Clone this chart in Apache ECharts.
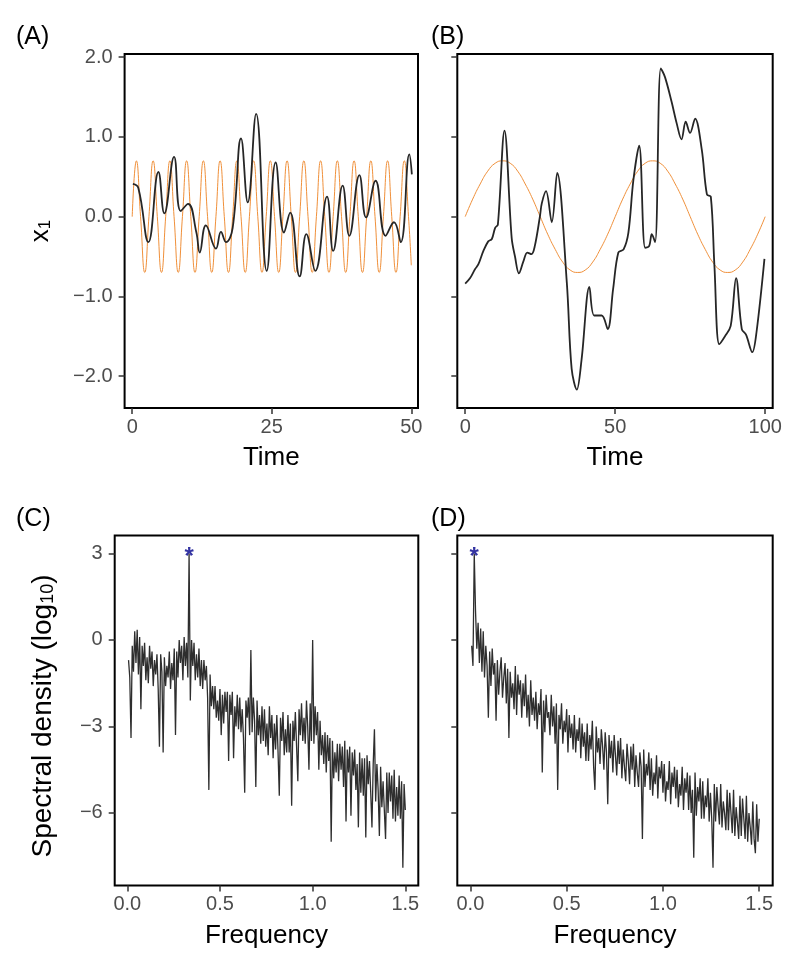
<!DOCTYPE html>
<html><head><meta charset="utf-8">
<script src="https://cdn.jsdelivr.net/npm/echarts@6/dist/echarts.min.js"></script>
<style>html,body{margin:0;padding:0;background:#fff}#chart{width:800px;height:968px}</style>
</head><body><div id="chart"></div>
<script>
// ---------- Panel A: time series (t 0..50) ----------
const timeA = [0.12, 1.1, 2.9, 4.7, 5.76, 7.5, 8.7, 10.0, 11.5, 12.1, 13.2, 15.0, 15.9, 16.8, 18.0, 19.5, 20.7, 22.2, 24.1, 25.7, 27.2, 28.3, 30.0, 31.2, 32.8, 34.9, 36.0, 37.7, 38.9, 40.7, 41.9, 43.6, 45.4, 46.9, 48.1, 49.65, 50.1];
const x1A = [0.41, 0.36, -0.32, 0.56, 0.04, 0.75, 0.07, 0.16, -0.2, -0.45, -0.11, -0.40, -0.19, -0.32, -0.14, 0.98, 0.18, 1.29, -0.68, 0.68, -0.20, 0.05, -0.75, -0.22, -0.68, 0.25, -0.43, 0.39, -0.24, 0.52, -0.01, 0.45, -0.24, -0.07, -0.32, 0.78, 0.53];
const sineTimeA = [0, 0.75, 1.5, 2.25, 3, 3.75, 4.5, 5.25, 6, 6.75, 7.5, 8.25, 9, 9.75, 10.5, 11.25, 12, 12.75, 13.5, 14.25, 15, 15.75, 16.5, 17.25, 18, 18.75, 19.5, 20.25, 21, 21.75, 22.5, 23.25, 24, 24.75, 25.5, 26.25, 27, 27.75, 28.5, 29.25, 30, 30.75, 31.5, 32.25, 33, 33.75, 34.5, 35.25, 36, 36.75, 37.5, 38.25, 39, 39.75, 40.5, 41.25, 42, 42.75, 43.5, 44.25, 45, 45.75, 46.5, 47.25, 48, 48.75, 49.5, 50];
const sineA = [0,0.7,0,-0.7, 0,0.7,0,-0.7, 0,0.7,0,-0.7, 0,0.7,0,-0.7, 0,0.7,0,-0.7, 0,0.7,0,-0.7, 0,0.7,0,-0.7, 0,0.7,0,-0.7,
  0,0.7,0,-0.7, 0,0.7,0,-0.7, 0,0.7,0,-0.7, 0,0.7,0,-0.7, 0,0.7,0,-0.7, 0,0.7,0,-0.7, 0,0.7,0,-0.7, 0,0.7,0,-0.7, 0,0.7,0, -0.61];

// ---------- Panel B: time series (t 0..100) ----------
const timeB = [0, 1.65, 3.26, 4.37, 6.07, 7.68, 8.88, 9.99, 10.89, 13.1, 15.5, 16.6, 17.9, 19.4, 20.7, 22.1, 23.2, 24.9, 25.55, 26.95, 28.86, 30.67, 33.88, 35.49, 37.2, 38.8, 41.4, 43.0, 45.5, 47.5, 49.3, 51.05, 52.8, 54.4, 56.07, 57.98, 59.99, 61.3, 62.2, 63.3, 65.2, 66.6, 68.8, 70.5, 72.1, 73.5, 74.95, 76.65, 78.86, 80.57, 81.87, 83.08, 84.7, 86.6, 88.5, 90.3, 92.2, 93.6, 95.7, 97.1, 99.75];
const x1B = [-0.84, -0.77, -0.66, -0.60, -0.43, -0.31, -0.28, -0.14, -0.10, 1.08, -0.27, -0.50, -0.71, -0.56, -0.45, -0.47, -0.37, 0.0, 0.17, 0.32, -0.07, 0.55, -0.83, -1.91, -2.17, -1.79, -0.88, -1.24, -1.24, -1.41, -0.91, -0.45, -0.41, -0.2, 0.46, 0.89, -0.39, -0.37, -0.22, -0.32, 1.86, 1.75, 1.44, 1.17, 0.97, 1.19, 1.05, 1.23, 0.84, 0.28, 0.25, -0.62, -1.60, -1.50, -1.37, -0.77, -1.41, -1.48, -1.70, -1.45, -0.53];
const sineTimeB = [0, 2.5, 5, 7.5, 10, 12.5, 15, 17.5, 20, 22.5, 25, 27.5, 30, 32.5, 35, 37.5, 40, 42.5, 45, 47.5, 50, 52.5, 55, 57.5, 60, 62.5, 65, 67.5, 70, 72.5, 75, 77.5, 80, 82.5, 85, 87.5, 90, 92.5, 95, 97.5, 100];
const sineB = [0, 0.22, 0.41, 0.57, 0.67, 0.7, 0.67, 0.57, 0.41, 0.22, 0, -0.22, -0.41, -0.57, -0.67, -0.7, -0.67, -0.57, -0.41, -0.22,
  0, 0.22, 0.41, 0.57, 0.67, 0.7, 0.67, 0.57, 0.41, 0.22, 0, -0.22, -0.41, -0.57, -0.67, -0.7, -0.67, -0.57, -0.41, -0.22, 0];

// ---------- Panels C, D: log10 spectral density, frequency = (i+1) * freqStep ----------
const freqStep = 1 / 150;
const specC = [
  -0.7, -1.3, -3.4, -0.2, -1.1, 0.3, -0.8, 0.35, -1.2, 0.1,
  -2.4, -0.2, -0.9, -0.1, -1.4, -0.6, -1.5, -0.2, -1.0, -0.4,
  -1.6, -0.7, -1.2, -0.5, -1.7, -3.7, -0.5, -1.1, -3.9, -0.6,
  -1.6, -0.9, -1.3, -0.4, -1.7, -0.8, -1.4, -0.3, -3.3, -0.4,
  -1.3, 0.0, -0.8, -0.2, -1.4, 0.1, -0.9, -0.1, -1.3, 3.0,
  -2.1, 0.0, -0.9, -0.1, -1.4, -0.5, -1.3, -0.3, -1.6, -0.7,
  -1.7, -0.7, -1.4, -0.9, -2.0, -5.2, -1.2, -2.3, -1.6, -2.4,
  -1.6, -2.7, -2.1, -2.8, -1.7, -3.3, -1.9, -2.9, -1.8, -2.5,
  -1.8, -4.2, -1.9, -2.6, -1.8, -4.1, -2.3, -3.0, -1.9, -3.1,
  -2.0, -3.2, -2.4, -3.4, -5.3, -2.1, -2.7, -2.0, -3.3, -0.35,
  -3.2, -2.0, -2.8, -5.1, -2.1, -3.3, -2.6, -3.6, -2.3, -3.5,
  -2.4, -3.7, -2.9, -4.0, -2.3, -3.4, -2.6, -4.1, -2.9, -3.8,
  -2.6, -3.9, -5.4, -2.7, -3.5, -2.5, -4.0, -3.1, -3.9, -2.6,
  -3.9, -2.9, -5.75, -2.8, -3.5, -2.5, -3.7, -4.9, -2.4, -3.3,
  -2.2, -3.5, -2.7, -3.6, -2.1, -3.0, -4.5, -2.2, -3.5, 0.0,
  -3.6, -2.3, -3.3, -2.5, -4.5, -2.8, -4.0, -3.3, -4.3, -3.2,
  -4.6, -3.3, -4.2, -3.4, -7.0, -3.5, -4.8, -3.9, -4.6, -3.6,
  -4.9, -3.6, -4.5, -3.7, -5.1, -3.5, -6.3, -3.8, -4.6, -3.7,
  -6.1, -3.9, -4.7, -3.8, -5.2, -4.3, -6.5, -3.9, -5.3, -4.1,
  -5.4, -4.1, -6.85, -4.0, -5.0, -4.2, -5.3, -6.5, -4.3, -3.1,
  -5.6, -4.3, -5.2, -6.8, -4.4, -5.8, -4.9, -5.9, -6.9, -4.6,
  -6.0, -4.6, -5.6, -4.7, -6.2, -4.5, -6.3, -5.1, -6.1, -4.7,
  -6.2, -4.9, -7.9, -5.0, -5.9
];
const specD = [
  -0.2, -0.9, 3.0, 1.0, -0.3, 0.6, -0.8, 0.4, -1.1, 0.3,
  -1.3, -0.2, -0.9, -2.7, -0.4, -1.6, -0.3, -1.2, -0.8, -2.8,
  -0.7, -1.9, -1.1, -0.6, -2.0, -1.3, -0.8, -2.2, -1.0, -3.4,
  -1.1, -2.0, -1.5, -2.4, -0.9, -2.6, -1.2, -1.9, -1.4, -2.7,
  -1.5, -2.3, -1.2, -2.7, -1.9, -3.0, -1.4, -2.6, -2.0, -2.8,
  -1.8, -3.1, -2.2, -2.6, -1.7, -4.6, -2.1, -3.2, -1.9, -2.7,
  -2.5, -3.3, -1.9, -3.0, -2.3, -3.6, -2.2, -5.2, -2.6, -3.1,
  -2.2, -3.6, -2.8, -3.2, -2.4, -3.9, -2.6, -3.4, -2.9, -3.8,
  -2.6, -3.9, -3.1, -3.5, -2.7, -4.1, -2.9, -3.7, -3.2, -4.2,
  -2.9, -4.2, -3.3, -3.8, -2.8, -4.4, -5.2, -3.0, -3.9, -3.4,
  -4.3, -3.1, -3.7, -4.5, -3.2, -3.9, -5.7, -3.3, -4.1, -3.5,
  -4.6, -3.3, -4.0, -4.7, -3.5, -4.3, -3.4, -4.8, -3.8, -4.4,
  -4.9, -3.6, -4.2, -5.0, -3.7, -4.5, -3.6, -5.1, -4.0, -4.6,
  -5.1, -3.9, -4.4, -6.9, -3.8, -5.1, -4.3, -4.7, -3.9, -5.2,
  -4.1, -5.4, -4.6, -5.0, -4.0, -5.5, -4.4, -4.8, -4.2, -5.3,
  -4.3, -5.6, -4.9, -5.2, -4.2, -5.7, -4.6, -5.1, -4.4, -5.5,
  -4.5, -5.8, -5.0, -5.4, -4.4, -5.9, -4.8, -5.3, -4.6, -5.9,
  -4.7, -6.0, -5.2, -7.55, -4.6, -6.1, -5.1, -5.6, -4.8, -6.2,
  -4.9, -6.2, -5.4, -5.8, -4.8, -6.3, -5.3, -6.2, -7.9, -5.0,
  -6.3, -5.1, -5.8, -6.4, -5.0, -6.5, -5.6, -6.0, -6.6, -5.2,
  -6.6, -5.3, -6.0, -6.7, -5.2, -6.8, -5.8, -6.3, -6.9, -5.4,
  -6.8, -5.5, -6.2, -6.9, -5.4, -7.0, -6.0, -6.5, -7.1, -5.6,
  -6.9, -7.4, -5.7, -7.0, -6.2
];
const peakC = [0.3333, 3.0];
const peakD = [0.02, 3.0];

// ---------- tick values ----------
const ticksTimeA = [0, 25, 50];
const ticksTimeB = [0, 50, 100];
const ticksX1 = [-2, -1, 0, 1, 2];
const ticksFreq = [0, 0.5, 1, 1.5];
const ticksSpec = [-6, -3, 0, 3];

// ---------- build ----------
const FONT = "'Liberation Sans', Arial, Helvetica, sans-serif";
const minus = s => s.replace('-', '\u2212');
const fmt1 = v => minus(Number(v).toFixed(1));
const fmt0 = v => minus(String(Math.round(v)));
const zip = (xs, ys) => xs.map((x, i) => [x, ys[i]]);
const specData = arr => arr.map((v, i) => [(i + 1) * freqStep, v]);

const grids = [
  {left: 124.6, top: 54, width: 293.4, height: 354},
  {left: 457.3, top: 54, width: 315.4, height: 354},
  {left: 114.7, top: 535.6, width: 303.6, height: 350},
  {left: 457.3, top: 535.6, width: 315.4, height: 350}
].map(g => Object.assign(g, {show: true, borderColor: '#000', borderWidth: 2, backgroundColor: 'transparent', containLabel: false}));

function axis(gi, min, max, ticks, fmt, showLabels, isY) {
  return {
    type: 'value', gridIndex: gi, min: min, max: max,
    axisLine: {show: false, onZero: false},
    splitLine: {show: false},
    axisTick: {show: true, length: 6, lineStyle: {color: '#333', width: 1.5}, customValues: ticks},
    axisLabel: {show: showLabels, customValues: ticks, formatter: fmt, color: '#4d4d4d',
      fontSize: 20, fontFamily: FONT, margin: isY ? 12 : 9}
  };
}

const xAxes = [
  axis(0, -1.36, 51.2, ticksTimeA, fmt0, true, false),
  axis(1, -2.63, 102.5, ticksTimeB, fmt0, true, false),
  axis(2, -0.068, 1.57, ticksFreq, fmt1, true, false),
  axis(3, -0.068, 1.57, ticksFreq, fmt1, true, false)
];
const yAxes = [
  axis(0, -2.4, 2.04, ticksX1, fmt1, true, true),
  axis(1, -2.4, 2.04, ticksX1, fmt1, false, true),
  axis(2, -8.52, 3.62, ticksSpec, fmt0, true, true),
  axis(3, -8.52, 3.62, ticksSpec, fmt0, false, true)
];

const ORANGE = '#F0903A';
const DARK = '#262626';
function lineS(i, data, color, width, smooth) {
  return {type: 'line', xAxisIndex: i, yAxisIndex: i, data: data, showSymbol: false, symbol: 'none',
    smooth: smooth, lineStyle: {color: color, width: width}, animation: false, clip: true, z: 2};
}
function starS(i, pt) {
  return {type: 'scatter', xAxisIndex: i, yAxisIndex: i, data: [pt], symbolSize: 1,
    itemStyle: {color: 'rgba(0,0,0,0)'}, animation: false, z: 5,
    label: {show: true, position: 'inside', formatter: '*', color: '#00008B', fontSize: 24,
      fontWeight: 'bold', fontFamily: FONT, offset: [0, 4]}};
}

const series = [
  lineS(0, zip(sineTimeA, sineA), ORANGE, 1, 0.5),
  lineS(0, zip(timeA, x1A), DARK, 1.8, 0.45),
  lineS(1, zip(sineTimeB, sineB), ORANGE, 1, 0.5),
  lineS(1, zip(timeB, x1B), DARK, 1.8, 0.35),
  lineS(2, specData(specC), '#2e2e2e', 1.3, false),
  lineS(3, specData(specD), '#2e2e2e', 1.3, false),
  starS(2, peakC),
  starS(3, peakD)
];

const txt = (x, y, text, size) => ({type: 'text', x: x, y: y, z: 10,
  style: {text: text, fontSize: size, fontFamily: FONT, fill: '#000', align: 'center', verticalAlign: 'middle'}});
const panelLab = (x, y, text) => ({type: 'text', x: x, y: y, z: 10,
  style: {text: text, fontSize: 25, fontFamily: FONT, fill: '#000', align: 'left', verticalAlign: 'middle'}});

const graphic = [
  panelLab(16, 37, '(A)'),
  panelLab(431, 37, '(B)'),
  panelLab(16, 519, '(C)'),
  panelLab(431, 519, '(D)'),
  txt(271.3, 458, 'Time', 26),
  txt(615, 458, 'Time', 26),
  txt(266.5, 936, 'Frequency', 26),
  txt(615, 936, 'Frequency', 26),
  {type: 'text', x: 41, y: 231, rotation: Math.PI / 2, z: 10,
    style: {text: '{a|x}{b|1}', align: 'center', verticalAlign: 'middle', fill: '#000',
      rich: {a: {fontSize: 26, fontFamily: FONT, lineHeight: 26, padding: [0, 0, 7, 0], verticalAlign: 'top'},
             b: {fontSize: 17, fontFamily: FONT, lineHeight: 17, verticalAlign: 'bottom'}}}},
  {type: 'text', x: 43, y: 716, rotation: Math.PI / 2, z: 10,
    style: {text: '{a|Spectral density (log}{b|10}{a|)}', align: 'center', verticalAlign: 'middle', fill: '#000',
      rich: {a: {fontSize: 28, fontFamily: FONT, lineHeight: 28, padding: [0, 0, 7, 0], verticalAlign: 'top'},
             b: {fontSize: 18, fontFamily: FONT, lineHeight: 18, verticalAlign: 'bottom'}}}}
];

const chart = echarts.init(document.getElementById('chart'), null, {renderer: 'canvas', width: 800, height: 968});
chart.setOption({
  backgroundColor: '#fff',
  animation: false,
  grid: grids,
  xAxis: xAxes,
  yAxis: yAxes,
  series: series,
  graphic: graphic
});
</script>
</body></html>
